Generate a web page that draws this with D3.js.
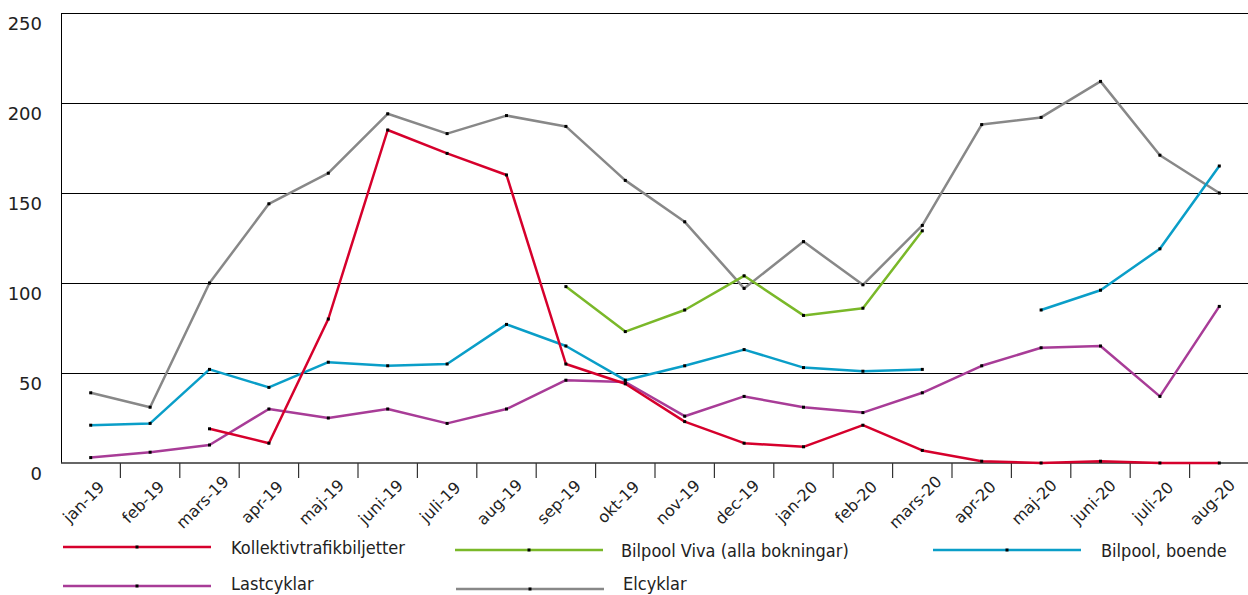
<!DOCTYPE html>
<html>
<head>
<meta charset="utf-8">
<script src="https://cdn.jsdelivr.net/npm/d3@7"></script>
<style>
  html, body { margin: 0; padding: 0; background: #fff; }
  svg { display: block; }
</style>
</head>
<body>
<svg id="chart" width="1248" height="595"></svg>
<script>
const months = ["jan-19","feb-19","mars-19","apr-19","maj-19","juni-19","juli-19","aug-19","sep-19","okt-19","nov-19","dec-19","jan-20","feb-20","mars-20","apr-20","maj-20","juni-20","juli-20","aug-20"];
const kollektivtrafik = [null,null,19,11,80,185,172,160,55,44,23,11,9,21,7,1,0,1,0,0];
const bilpoolViva = [null,null,null,null,null,null,null,null,98,73,85,104,82,86,129,null,null,null,null,null];
const bilpoolBoende = [21,22,52,42,56,54,55,77,65,46,54,63,53,51,52,null,85,96,119,165];
const lastcyklar = [3,6,10,30,25,30,22,30,46,45,26,37,31,28,39,54,64,65,37,87];
const elcyklar = [39,31,100,144,161,194,183,193,187,157,134,97,123,99,132,188,192,212,171,150];
const yTicks = [0,50,100,150,200,250];

const seriesNames = ["Kollektivtrafikbiljetter","Bilpool Viva (alla bokningar)","Bilpool, boende","Lastcyklar","Elcyklar"];
const seriesValues = [kollektivtrafik, bilpoolViva, bilpoolBoende, lastcyklar, elcyklar];
const seriesColors = ["#d6002c","#7ab829","#0a9ec8","#a83c97","#888888"];

const svg = d3.select("#chart");
const plotLeft = 61, plotRight = 1249, plotTop = 13, plotBottom = 463;

const x = d3.scaleBand().domain(months).range([plotLeft, plotRight]).padding(0);
const y = d3.scaleLinear().domain([0, 250]).range([plotBottom, plotTop]);

// gridlines
svg.append("g").selectAll("line").data(yTicks.filter(d => d > 0)).join("line")
  .attr("x1", plotLeft).attr("x2", 1248)
  .attr("y1", d => y(d)).attr("y2", d => y(d))
  .attr("stroke", "#000").attr("stroke-width", 1).attr("shape-rendering", "crispEdges");

// y labels
svg.append("g").selectAll("text").data(yTicks).join("text")
  .attr("x", 42).attr("y", d => y(d) + 17)
  .attr("text-anchor", "end")
  .attr("font-family", "DejaVu Sans, sans-serif").attr("font-size", 18)
  .attr("fill", "#222")
  .text(d => d);

// left axis line
svg.append("line").attr("x1", plotLeft).attr("x2", plotLeft).attr("y1", plotTop).attr("y2", plotBottom)
  .attr("stroke", "#000").attr("stroke-width", 1).attr("shape-rendering", "crispEdges");

// bottom axis
svg.append("line").attr("x1", plotLeft).attr("x2", 1248).attr("y1", plotBottom).attr("y2", plotBottom)
  .attr("stroke", "#333").attr("stroke-width", 1.5);
svg.append("g").selectAll("line").data(months.slice(1)).join("line")
  .attr("x1", d => x(d)).attr("x2", d => x(d))
  .attr("y1", plotBottom).attr("y2", plotBottom + 15)
  .attr("stroke", "#333").attr("stroke-width", 1.2);

// x labels
svg.append("g").selectAll("text").data(months).join("text")
  .attr("transform", d => `translate(${x(d) + x.bandwidth()/2 - 3},506) rotate(-45)`)
  .attr("text-anchor", "middle")
  .attr("font-family", "DejaVu Sans, sans-serif").attr("font-size", 16)
  .attr("fill", "#222")
  .text(d => d);

// lines (draw gray first, red last)
const line = d3.line()
  .defined(d => d.v !== null)
  .x(d => x(d.m) + x.bandwidth()/2)
  .y(d => y(d.v));

const order = [4,3,2,1,0];
order.forEach(i => {
  const pts = months.map((m, j) => ({m, v: seriesValues[i][j]}));
  const g = svg.append("g");
  g.append("path").datum(pts)
    .attr("d", line).attr("fill", "none")
    .attr("stroke", seriesColors[i]).attr("stroke-width", 2.5)
    .attr("stroke-linejoin", "round");
  g.selectAll("rect").data(pts.filter(d => d.v !== null)).join("rect")
    .attr("x", d => x(d.m) + x.bandwidth()/2 - 1.5)
    .attr("y", d => y(d.v) - 1.5)
    .attr("width", 3).attr("height", 3).attr("fill", "#000");
});

// legend
const legendPos = [
  {lx: 63, ly: 547, tx: 231, ty: 554},
  {lx: 455, ly: 550, tx: 621, ty: 557},
  {lx: 933, ly: 550, tx: 1101, ty: 557},
  {lx: 63, ly: 586, tx: 231, ty: 590},
  {lx: 456, ly: 589, tx: 623, ty: 590}
];
seriesNames.forEach((name, i) => {
  const p = legendPos[i];
  const g = svg.append("g");
  g.append("line").attr("x1", p.lx).attr("x2", p.lx + 148).attr("y1", p.ly).attr("y2", p.ly)
    .attr("stroke", seriesColors[i]).attr("stroke-width", 2.5);
  g.append("rect").attr("x", p.lx + 74 - 1.5).attr("y", p.ly - 1.5).attr("width", 3).attr("height", 3).attr("fill", "#000");
  g.append("text").attr("x", p.tx).attr("y", p.ty)
    .attr("font-family", "DejaVu Sans Condensed, DejaVu Sans, sans-serif")
    .attr("font-stretch", "condensed")
    .attr("font-size", 18).attr("fill", "#222")
    .text(name);
});
</script>
</body>
</html>
